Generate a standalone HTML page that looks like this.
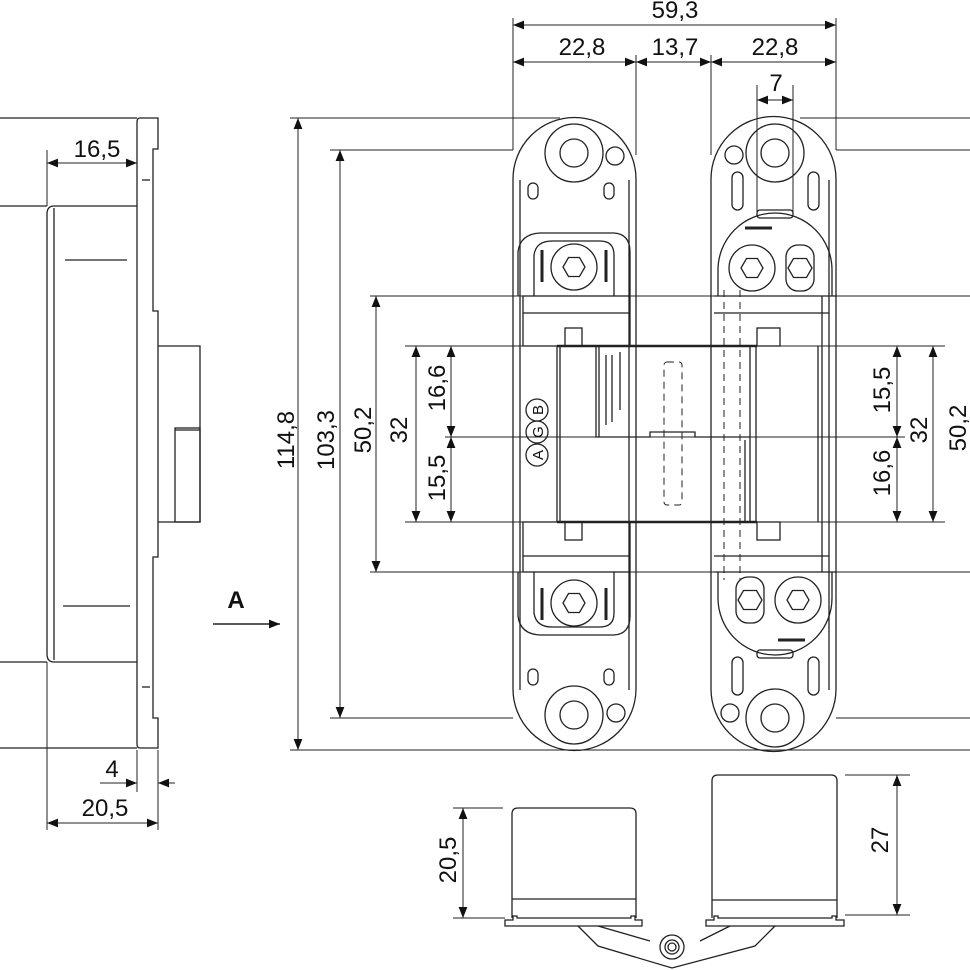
<!DOCTYPE html>
<html><head><meta charset="utf-8"><style>
html,body{margin:0;padding:0;background:#fff;}
svg{display:block}
text{font-family:"Liberation Sans",sans-serif;font-size:24px;fill:#111}
</style></head><body>
<svg width="970" height="970" viewBox="0 0 970 970" xmlns="http://www.w3.org/2000/svg">
<defs>
<marker id="a" viewBox="0 0 10 10" refX="10" refY="5" markerWidth="11" markerHeight="11" markerUnits="userSpaceOnUse" orient="auto-start-reverse"><path d="M0,1 L10,5 L0,9 z" fill="#111"/></marker>
</defs>
<g fill="none" stroke="#222" stroke-width="1.3">
<!-- ===== Left side view ===== -->
<line x1="0" y1="118" x2="137" y2="118"/>
<line x1="0" y1="206" x2="47" y2="206"/>
<line x1="0" y1="662" x2="47" y2="662"/>
<line x1="0" y1="748" x2="137" y2="748"/>
<path d="M140,118 H158 V149 H153 V311 H158 V557 H153 V718 H158 V748 H140 Q137,748 137,744 V122 Q137,118 140,118 Z"/>
<path d="M137,206 H54 Q47,206 47,214 V654 Q47,662 54,662 H137"/>
<line x1="54" y1="208" x2="54" y2="660"/>
<line x1="65" y1="260" x2="127" y2="260"/>
<line x1="63" y1="606" x2="130" y2="606"/>
<line x1="142" y1="180" x2="150" y2="180"/>
<line x1="142" y1="687" x2="150" y2="687"/>
<path d="M158,346 H200 V522 H158"/>
<rect x="175" y="428" width="25" height="94"/>
<line x1="175" y1="430" x2="200" y2="430"/>
<!-- dims -->
<line x1="47" y1="150" x2="47" y2="206" stroke-width="1"/>
<line x1="47" y1="163" x2="137" y2="163" marker-start="url(#a)" marker-end="url(#a)" stroke-width="1"/>
<line x1="47" y1="662" x2="47" y2="830" stroke-width="1"/>
<line x1="137" y1="750" x2="137" y2="792" stroke-width="1"/>
<line x1="158" y1="750" x2="158" y2="830" stroke-width="1"/>
<line x1="100" y1="783" x2="137" y2="783" marker-end="url(#a)" stroke-width="1"/>
<line x1="175" y1="783" x2="158" y2="783" marker-end="url(#a)" stroke-width="1"/>
<line x1="47" y1="823" x2="158" y2="823" marker-start="url(#a)" marker-end="url(#a)" stroke-width="1"/>
<!-- A arrow -->
<line x1="213" y1="624" x2="280" y2="624" stroke-width="1.5" marker-end="url(#a)"/>

<!-- ===== Extension lines ===== -->
<g stroke-width="1">
<line x1="290" y1="118" x2="560" y2="118"/>
<line x1="800" y1="118" x2="970" y2="118"/>
<line x1="330" y1="150" x2="513" y2="150"/>
<line x1="836" y1="150" x2="970" y2="150"/>
<line x1="370" y1="296" x2="970" y2="296"/>
<line x1="405" y1="346" x2="945" y2="346"/>
<line x1="445" y1="437" x2="905" y2="437"/>
<line x1="405" y1="522" x2="945" y2="522"/>
<line x1="370" y1="572" x2="970" y2="572"/>
<line x1="330" y1="718" x2="513" y2="718"/>
<line x1="836" y1="718" x2="970" y2="718"/>
<line x1="290" y1="750" x2="970" y2="750"/>
<line x1="513" y1="18" x2="513" y2="150"/>
<line x1="836" y1="18" x2="836" y2="150"/>
<line x1="636" y1="55" x2="636" y2="155"/>
<line x1="711" y1="55" x2="711" y2="155"/>
<line x1="757" y1="85" x2="757" y2="212"/>
<line x1="793" y1="85" x2="793" y2="212"/>
</g>
<!-- dims top -->
<g stroke-width="1">
<line x1="513" y1="25" x2="836" y2="25" marker-start="url(#a)" marker-end="url(#a)"/>
<line x1="513" y1="62" x2="636" y2="62" marker-start="url(#a)" marker-end="url(#a)"/>
<line x1="636" y1="62" x2="711" y2="62" marker-start="url(#a)" marker-end="url(#a)"/>
<line x1="711" y1="62" x2="836" y2="62" marker-start="url(#a)" marker-end="url(#a)"/>
<line x1="757" y1="100" x2="793" y2="100" marker-start="url(#a)" marker-end="url(#a)"/>
<line x1="298" y1="118" x2="298" y2="750" marker-start="url(#a)" marker-end="url(#a)"/>
<line x1="340" y1="150" x2="340" y2="718" marker-start="url(#a)" marker-end="url(#a)"/>
<line x1="376" y1="296" x2="376" y2="572" marker-start="url(#a)" marker-end="url(#a)"/>
<line x1="416" y1="346" x2="416" y2="522" marker-start="url(#a)" marker-end="url(#a)"/>
<line x1="451" y1="346" x2="451" y2="437" marker-start="url(#a)" marker-end="url(#a)"/>
<line x1="451" y1="437" x2="451" y2="522" marker-start="url(#a)" marker-end="url(#a)"/>
<line x1="897" y1="346" x2="897" y2="437" marker-start="url(#a)" marker-end="url(#a)"/>
<line x1="897" y1="437" x2="897" y2="522" marker-start="url(#a)" marker-end="url(#a)"/>
<line x1="933" y1="346" x2="933" y2="522" marker-start="url(#a)" marker-end="url(#a)"/>
<line x1="975" y1="296" x2="975" y2="572" marker-start="url(#a)" marker-end="url(#a)"/>
</g>

<!-- ===== Left hinge plate ===== -->
<path d="M513,179 A61.5,61.5 0 0 1 636,179 V689 A61.5,61.5 0 0 1 513,689 Z"/>
<line x1="520" y1="180" x2="520" y2="690"/>
<line x1="629" y1="180" x2="629" y2="690"/>
<circle cx="574" cy="153" r="29"/><circle cx="574" cy="153" r="14"/>
<circle cx="615" cy="156" r="9"/>
<rect x="528" y="183" width="10" height="16" rx="5"/><rect x="604" y="183" width="10" height="16" rx="5"/>
<rect x="528" y="669" width="10" height="16" rx="5"/><rect x="604" y="669" width="10" height="16" rx="5"/>
<circle cx="574" cy="715" r="29"/><circle cx="574" cy="715" r="14"/>
<circle cx="616" cy="713" r="9"/>
<path d="M518,296 V252 Q520,234 540,233 H614 Q630,234 630,252 V296"/>
<path d="M534,296 V255 Q536,241 552,241 H600 Q614,241 614,255 V296"/>
<circle cx="574" cy="267" r="23"/>
<polygon points="563,267 568.5,257.5 579.5,257.5 585,267 579.5,276.5 568.5,276.5"/>
<line x1="542" y1="250" x2="542" y2="282" stroke-width="3"/><line x1="606" y1="250" x2="606" y2="282" stroke-width="3"/>
<rect x="523" y="296" width="107" height="50"/>
<line x1="523" y1="313" x2="630" y2="313"/>
<rect x="565" y="328" width="17" height="18"/>
<path d="M518,572 V616 Q520,634 540,635 H614 Q630,634 630,616 V572"/>
<path d="M534,572 V613 Q536,627 552,627 H600 Q614,627 614,613 V572"/>
<circle cx="574" cy="603" r="23"/>
<polygon points="563,603 568.5,593.5 579.5,593.5 585,603 579.5,612.5 568.5,612.5"/>
<line x1="542" y1="588" x2="542" y2="620" stroke-width="3"/><line x1="606" y1="588" x2="606" y2="620" stroke-width="3"/>
<rect x="523" y="522" width="107" height="50"/>
<line x1="523" y1="556" x2="630" y2="556"/>
<rect x="565" y="522" width="17" height="18"/>

<!-- ===== Right hinge plate ===== -->
<path d="M711,179 A62.5,62.5 0 0 1 836,179 V689 A62.5,62.5 0 0 1 711,689 Z"/>
<line x1="829" y1="180" x2="829" y2="690"/>
<line x1="822" y1="296" x2="822" y2="572"/>
<circle cx="775" cy="153" r="29"/><circle cx="775" cy="153" r="14"/>
<circle cx="734" cy="155" r="9"/>
<rect x="732" y="172" width="11" height="38" rx="5.5"/><rect x="808" y="172" width="11" height="38" rx="5.5"/>
<rect x="732" y="657" width="11" height="38" rx="5.5"/><rect x="808" y="657" width="11" height="38" rx="5.5"/>
<circle cx="775" cy="718" r="29"/><circle cx="775" cy="718" r="14"/>
<circle cx="730" cy="713" r="9"/>
<path d="M718,296 V270 A57,57 0 0 1 832,270 V296"/>
<rect x="757" y="210" width="36" height="8" rx="3"/>
<circle cx="752" cy="268" r="23"/>
<polygon points="741,268 746.5,258.5 757.5,258.5 763,268 757.5,277.5 746.5,277.5"/>
<rect x="786" y="245" width="28" height="46" rx="12"/>
<polygon points="788,268 793.5,258.5 806.5,258.5 812,268 806.5,277.5 793.5,277.5"/>
<line x1="745" y1="228" x2="772" y2="228" stroke-width="3"/>
<line x1="714" y1="296" x2="836" y2="296"/>
<line x1="714" y1="313" x2="829" y2="313"/>
<rect x="757" y="328" width="23" height="18"/>
<path d="M718,572 V598 A57,57 0 0 0 832,598 V572"/>
<rect x="757" y="650" width="36" height="8" rx="3"/>
<circle cx="798" cy="600" r="23"/>
<polygon points="787,600 792.5,590.5 803.5,590.5 809,600 803.5,609.5 792.5,609.5"/>
<rect x="736" y="577" width="28" height="46" rx="12"/>
<polygon points="738,600 743.5,590.5 756.5,590.5 762,600 756.5,609.5 743.5,609.5"/>
<line x1="778" y1="640" x2="805" y2="640" stroke-width="3"/>
<line x1="714" y1="572" x2="836" y2="572"/>
<line x1="714" y1="556" x2="829" y2="556"/>
<rect x="757" y="522" width="23" height="18"/>

<!-- ===== Center body ===== -->
<line x1="557" y1="346" x2="757" y2="346" stroke-width="2.5"/>
<line x1="557" y1="522" x2="757" y2="522" stroke-width="2.5"/>
<line x1="557" y1="346" x2="557" y2="522"/>
<line x1="560" y1="346" x2="560" y2="522"/>
<path d="M596,346 V437 H650 V432 H695 V437 H750 V522"/>
<line x1="599" y1="346" x2="599" y2="437"/>
<line x1="750" y1="346" x2="750" y2="437"/>
<line x1="756" y1="346" x2="756" y2="522"/>
<line x1="818" y1="346" x2="818" y2="522"/>
<line x1="606" y1="355" x2="606" y2="425"/>
<line x1="612" y1="355" x2="612" y2="422"/>
<line x1="620" y1="352" x2="620" y2="410"/>
<line x1="745" y1="440" x2="745" y2="522"/>
<g stroke-dasharray="7,5" stroke-width="1">
<rect x="664" y="362" width="18" height="143" rx="3"/>
<line x1="724" y1="290" x2="724" y2="580"/>
<line x1="740" y1="290" x2="740" y2="580"/>
</g>
<circle cx="537" cy="410" r="11"/><circle cx="537" cy="432" r="11"/><circle cx="537" cy="455" r="11"/>

<!-- ===== Bottom view ===== -->
<path d="M512,918 V814 Q512,808 518,808 H630 Q636,808 636,814 V918"/>
<line x1="512" y1="899" x2="636" y2="899"/>
<path d="M505,926 V920 H513 V916 H517 V918 H631 V916 H635 V920 H642 V926 Z"/>
<path d="M712,918 V781 Q712,775 718,775 H831 Q837,775 837,781 V918"/>
<line x1="712" y1="900" x2="837" y2="900"/>
<path d="M706,926 V920 H714 V916 H718 V918 H832 V916 H836 V920 H844 V926 Z"/>
<path d="M578,926 L598,946 L672,968 L755,946 L775,926"/>
<path d="M598,926 L650,941 M700,941 L730,926"/>
<circle cx="672" cy="947" r="12"/><circle cx="672" cy="947" r="7"/><circle cx="672" cy="947" r="4"/>
<g stroke-width="1">
<line x1="453" y1="808" x2="503" y2="808"/>
<line x1="453" y1="918" x2="505" y2="918"/>
<line x1="463" y1="808" x2="463" y2="918" marker-start="url(#a)" marker-end="url(#a)"/>
<line x1="845" y1="775" x2="910" y2="775"/>
<line x1="845" y1="915" x2="910" y2="915"/>
<line x1="897" y1="775" x2="897" y2="915" marker-start="url(#a)" marker-end="url(#a)"/>
</g>
</g>

<!-- ===== Text ===== -->
<text x="675" y="18" text-anchor="middle">59,3</text>
<text x="582" y="55" text-anchor="middle">22,8</text>
<text x="675" y="55" text-anchor="middle">13,7</text>
<text x="775" y="55" text-anchor="middle">22,8</text>
<text x="776" y="91" text-anchor="middle">7</text>
<text x="97" y="157" text-anchor="middle">16,5</text>
<text x="112" y="777" text-anchor="middle">4</text>
<text x="105" y="816" text-anchor="middle">20,5</text>
<text x="236" y="608" text-anchor="middle" font-weight="bold">A</text>
<text transform="translate(294,440) rotate(-90)" text-anchor="middle">114,8</text>
<text transform="translate(334,440) rotate(-90)" text-anchor="middle">103,3</text>
<text transform="translate(371,430) rotate(-90)" text-anchor="middle">50,2</text>
<text transform="translate(407,430) rotate(-90)" text-anchor="middle">32</text>
<text transform="translate(445,388) rotate(-90)" text-anchor="middle">16,6</text>
<text transform="translate(445,478) rotate(-90)" text-anchor="middle">15,5</text>
<text transform="translate(890,390) rotate(-90)" text-anchor="middle">15,5</text>
<text transform="translate(890,473) rotate(-90)" text-anchor="middle">16,6</text>
<text transform="translate(927,430) rotate(-90)" text-anchor="middle">32</text>
<text transform="translate(966,428) rotate(-90)" text-anchor="middle">50,2</text>
<text transform="translate(456,860) rotate(-90)" text-anchor="middle">20,5</text>
<text transform="translate(888,840) rotate(-90)" text-anchor="middle">27</text>
<text transform="translate(543,410) rotate(-90)" text-anchor="middle" style="font-size:15px">B</text>
<text transform="translate(543,432) rotate(-90)" text-anchor="middle" style="font-size:15px">G</text>
<text transform="translate(543,455) rotate(-90)" text-anchor="middle" style="font-size:15px">A</text>
</svg>
</body></html>
